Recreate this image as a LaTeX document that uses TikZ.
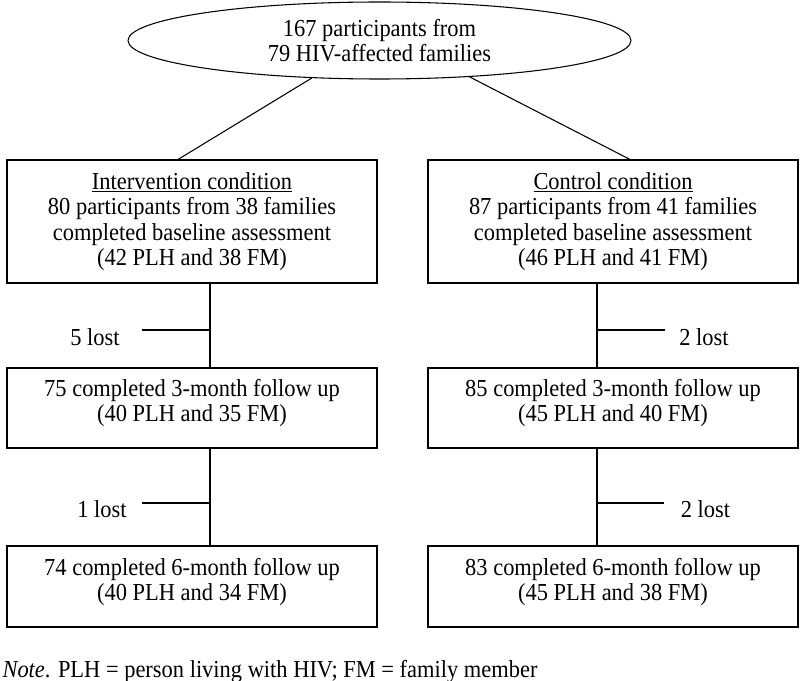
\documentclass[tikz,border=0pt]{standalone}
\usepackage{fontspec}
\setmainfont[FakeStretch=0.92]{Liberation Serif}
\usetikzlibrary{shapes.geometric,calc}
\newcommand{\boxpad}{\rule[-11pt]{0pt}{11pt}}
\begin{document}
\begin{tikzpicture}[x=0.75pt,y=-0.75pt,line width=0.8pt,
  every node/.style={font=\fontsize{18.3}{19}\selectfont},
  box/.style={draw,rectangle,minimum width=277.5pt,inner sep=0pt,align=center},
  lostlabel/.style={anchor=base,inner sep=0pt},
  startell/.style={draw,ellipse,minimum width=377.25pt,minimum height=57.75pt,inner sep=0pt,align=center}]
\useasboundingbox (0,0) rectangle (800,681);

\node[startell] (top) at (379.5,40.5) {167 participants from\\79 HIV-affected families};

\node[box,minimum height=92.25pt] (i1) at (192,221.5) {\underline{Intervention condition}\\80 participants from 38 families\\completed baseline assessment\\(42 PLH and 38 FM)};
\node[box,minimum height=92.25pt] (c1) at (613,221.5) {\underline{Control condition}\\87 participants from 41 families\\completed baseline assessment\\(46 PLH and 41 FM)};

\node[box,minimum height=60pt] (i2) at (192,408) {75 completed 3-month follow up\\(40 PLH and 35 FM)\boxpad};
\node[box,minimum height=60pt] (c2) at (613,408) {85 completed 3-month follow up\\(45 PLH and 40 FM)\boxpad};

\node[box,minimum height=60.75pt] (i3) at (192,586.5) {74 completed 6-month follow up\\(40 PLH and 34 FM)\boxpad};
\node[box,minimum height=60.75pt] (c3) at (613,586.5) {83 completed 6-month follow up\\(45 PLH and 38 FM)\boxpad};

% ellipse to baseline boxes
\draw (top.209) -- ($(i1.north)+(-14,0)$);
\draw (top.338) -- ($(c1.north)+(17,0)$);

% vertical flow lines
\draw ($(i1.south)+(18,0)$) -- ($(i2.north)+(18,0)$);
\draw ($(i2.south)+(18,0)$) -- ($(i3.north)+(18,0)$);
\draw ($(c1.south)+(-16,0)$) -- ($(c2.north)+(-16,0)$);
\draw ($(c2.south)+(-16,0)$) -- ($(c3.north)+(-16,0)$);

% loss ticks
\coordinate (li1) at (210,330); \coordinate (lt1) at (142,330);
\coordinate (li2) at (210,503); \coordinate (lt2) at (142,503);
\coordinate (ri1) at (597,330); \coordinate (rt1) at (665,330);
\coordinate (ri2) at (597,503); \coordinate (rt2) at (664,503);
\draw (lt1) -- (li1);
\draw (lt2) -- (li2);
\draw (ri1) -- (rt1);
\draw (ri2) -- (rt2);

\node[lostlabel] (lost5) at (95,345) {5 lost};
\node[lostlabel] (lost2a) at (704,345) {2 lost};
\node[lostlabel] (lost1) at (102,517) {1 lost};
\node[lostlabel] (lost2b) at (705.5,517) {2 lost};

\node[anchor=base west,inner sep=0pt] (note) at (2,677) {\textit{Note}. PLH = person living with HIV; FM = family member};
\end{tikzpicture}
\end{document}
